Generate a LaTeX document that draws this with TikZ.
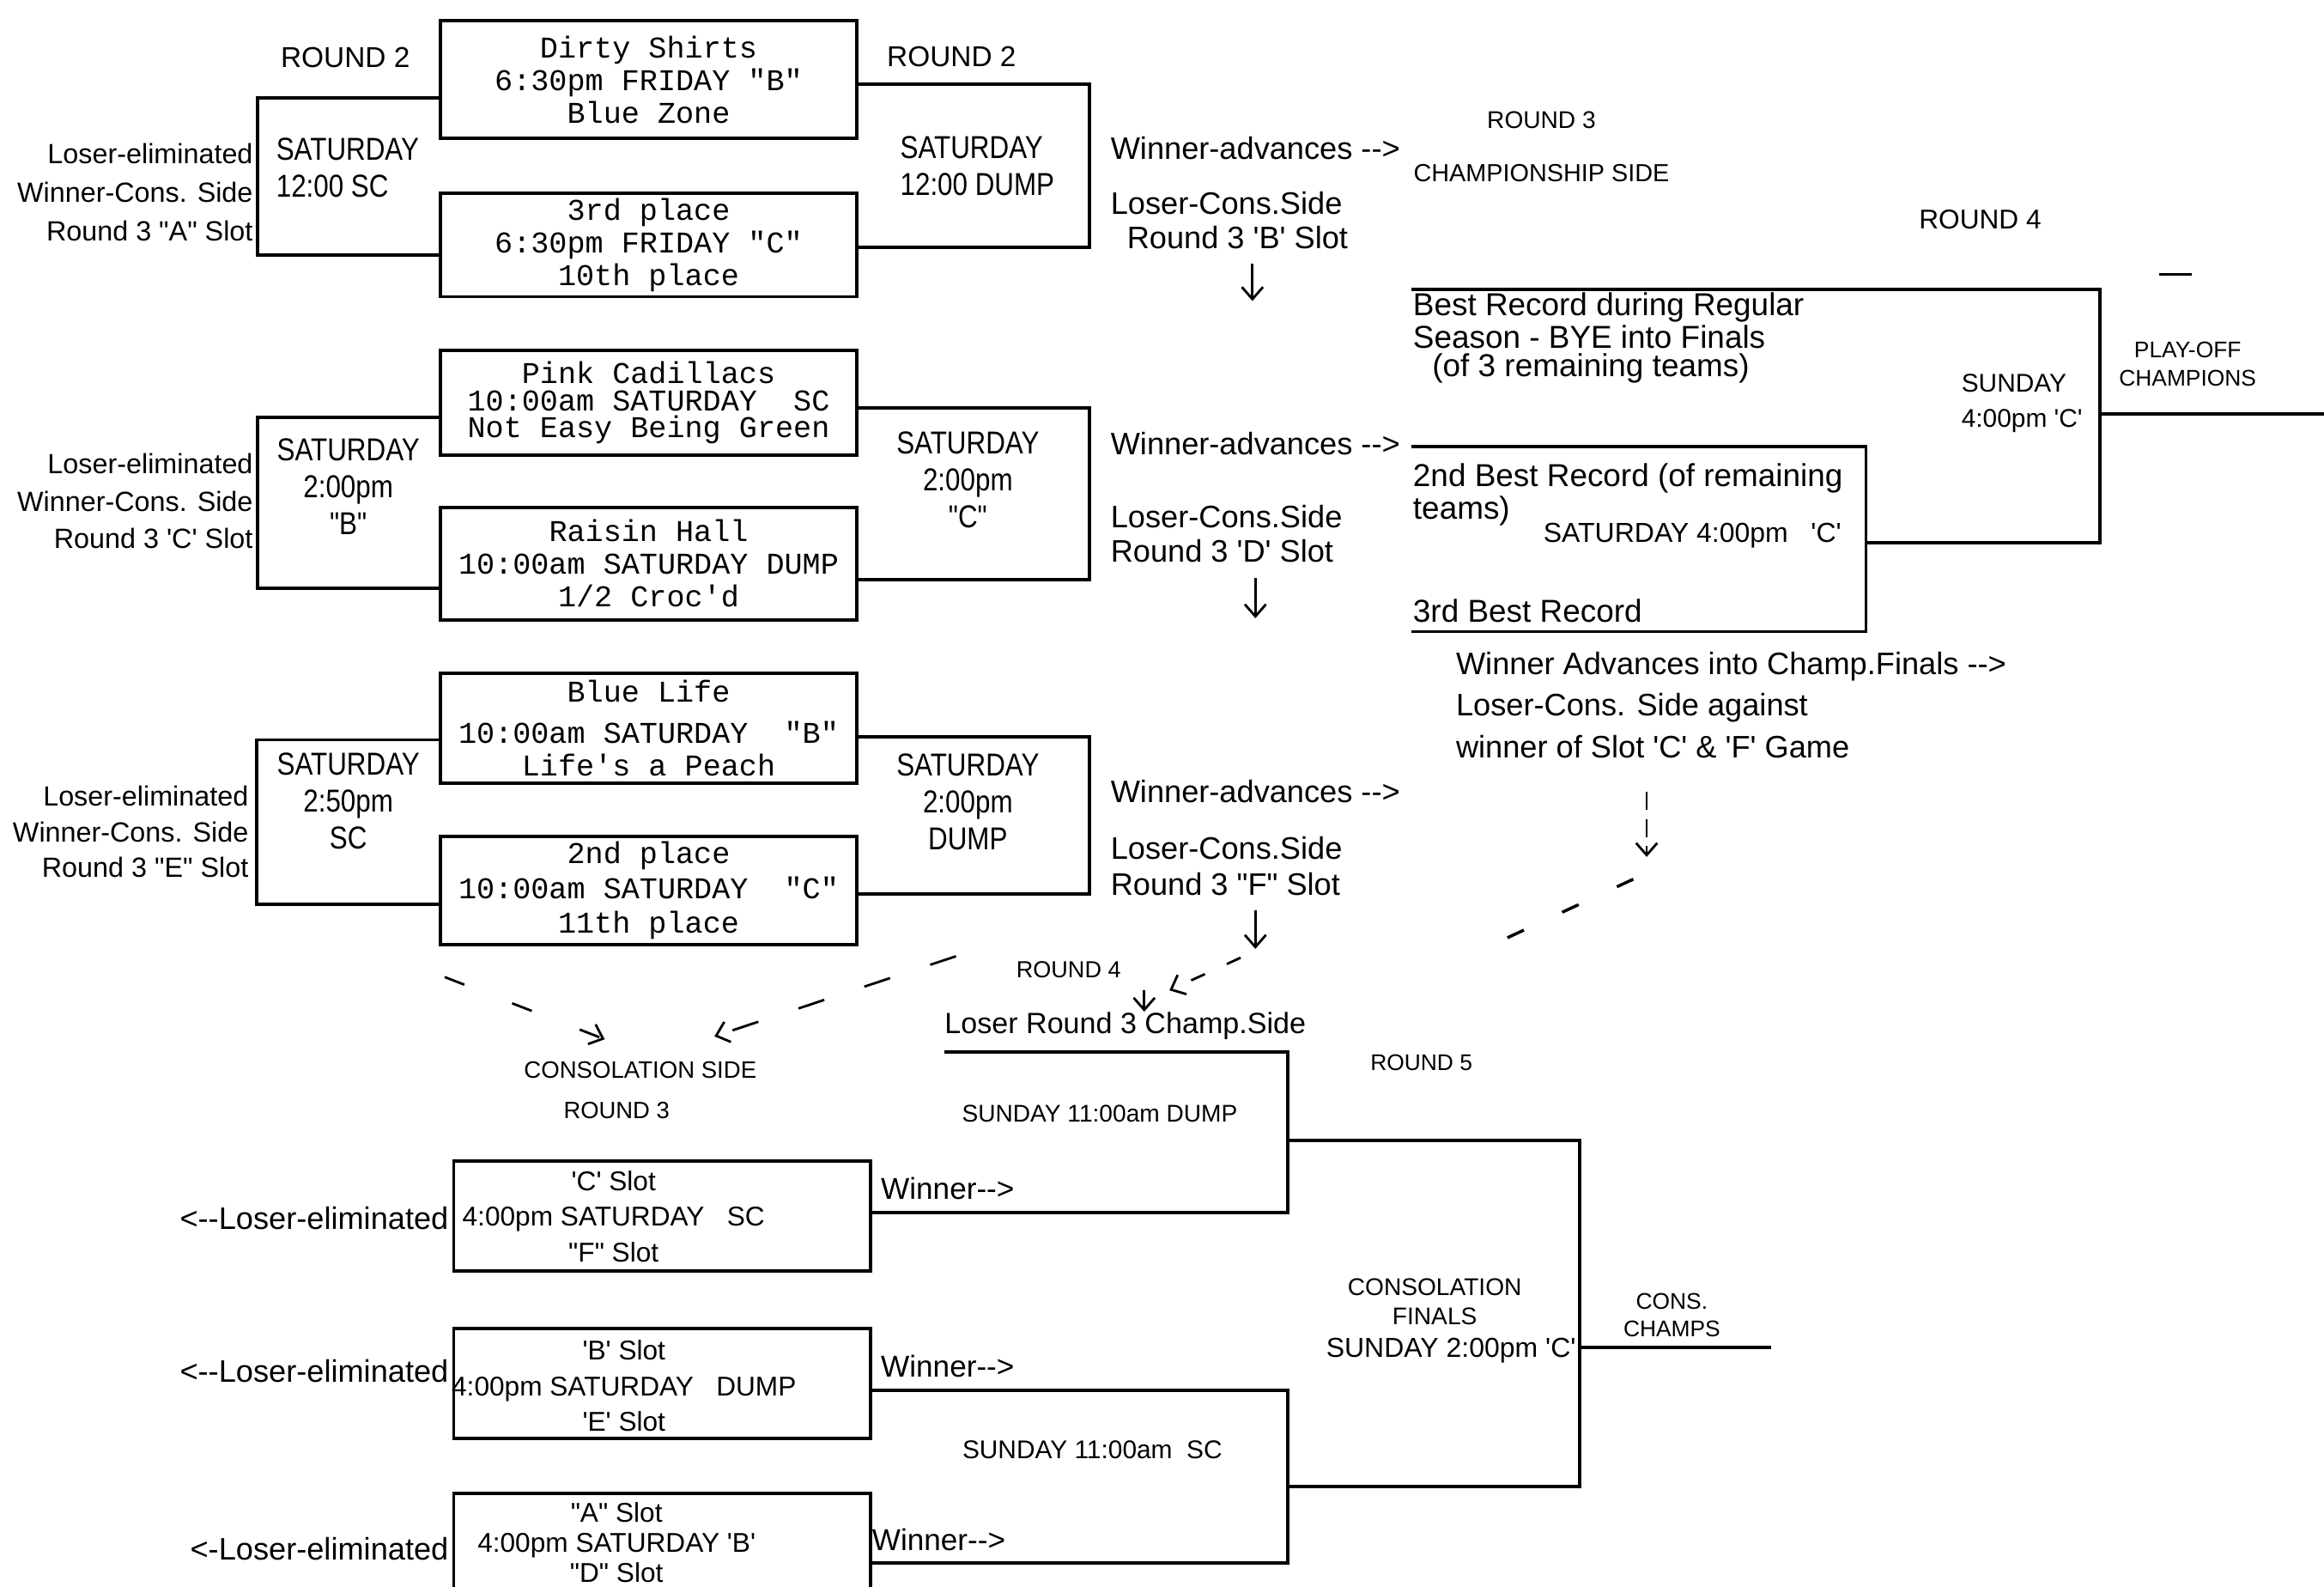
\documentclass[tikz,border=0pt]{standalone}
\usepackage{fontspec}
\setmonofont{Liberation Mono}
\newfontfamily\lbl{Liberation Sans}
\newfontfamily\cnd[FakeStretch=0.85]{Liberation Sans}
\usetikzlibrary{arrows.meta}
\newlength{\upx}
\setlength{\upx}{0.17264mm}

\begin{document}
\begin{tikzpicture}[
        x=0.17264mm, y=-0.17264mm,
        team/.style={draw, line width=1.1pt, anchor=north west, minimum width=281\upx,
            inner sep=0pt, align=center, font=\ttfamily\fontsize{10}{10.8}\selectfont},
        txt/.style 2 args={inner sep=0pt, font=\lbl\fontsize{#1}{#2}\selectfont},
        game/.style={inner sep=0pt, font=\cnd\fontsize{10.5}{12.2}\selectfont},
        brk/.style={line width=1.1pt},
        barb/.style={line width=0.8pt, -{Straight Barb[length=4pt,width=7pt]}}
    ]
    \path [use as bounding box, fill=white] (0,0) rectangle (1568,1070.4);

    \node[txt={9.5}{11}] (rnd2a) at (233,39) {ROUND 2};
    \node[txt={9.5}{11}] (rnd2b) at (642,38) {ROUND 2};
    \node[txt={8}{9}] (rnd3) at (1040,81) {ROUND 3};
    \node[txt={8.2}{9}] (champside) at (1040,117) {CHAMPIONSHIP SIDE};
    \node[txt={9}{10}] (rnd4) at (1336,148) {ROUND 4};

    \node[team, minimum height=79\upx] (dirty) at (296,13) {Dirty Shirts\\6:30pm FRIDAY "B"\\Blue Zone};
    \node[team, minimum height=70\upx] (third) at (296,129) {3rd place\\6:30pm FRIDAY "C"\\10th place};
    \node[team, minimum height=71\upx, font=\ttfamily\fontsize{10}{9}\selectfont] (pink) at (296,235) {Pink Cadillacs\\10:00am SATURDAY~~SC\\Not Easy Being Green};
    \node[team, minimum height=76\upx] (raisin) at (296,341) {Raisin Hall\\10:00am SATURDAY DUMP\\1/2 Croc'd};
    \node[team, minimum height=74\upx] (blue) at (296,453) {Blue Life\\[3pt]10:00am SATURDAY~~"B"\\Life's a Peach};
    \node[team, minimum height=73\upx, font=\ttfamily\fontsize{10}{11.6}\selectfont] (second) at (296,563) {2nd place\\10:00am SATURDAY~~"C"\\11th place};

    \node[game, align=left, anchor=west] (sat1l) at (186,113) {SATURDAY\\12:00 SC};
    \node[game, align=center] (sat2l) at (235,328) {SATURDAY\\2:00pm\\"B"};
    \node[game, align=center] (sat3l) at (235,540.5) {SATURDAY\\2:50pm\\SC};
    \node[game, align=left, anchor=west] (sat1r) at (607,112) {SATURDAY\\12:00 DUMP};
    \node[game, align=center] (sat2r) at (653,323.5) {SATURDAY\\2:00pm\\"C"};
    \node[game, align=center] (sat3r) at (653,541) {SATURDAY\\2:00pm\\DUMP};

    \coordinate (g1lt) at (174,66);    \coordinate (g1lb) at (174,172);
    \coordinate (g1rt) at (735,57);    \coordinate (g1rb) at (735,167);
    \coordinate (g2lt) at (174,281.5); \coordinate (g2lb) at (174,397);
    \coordinate (g2rt) at (735,275);   \coordinate (g2rb) at (735,391);
    \coordinate (g3lt) at (173,499);   \coordinate (g3lb) at (173,610);
    \coordinate (g3rt) at (735,497);   \coordinate (g3rb) at (735,603);
    \draw [brk] (dirty.west |- g1lt) -- (g1lt) -- (g1lb) -- (third.west |- g1lb);
    \draw [brk] (dirty.east |- g1rt) -- (g1rt) -- (g1rb) -- (third.east |- g1rb);
    \draw [brk] (pink.west |- g2lt) -- (g2lt) -- (g2lb) -- (raisin.west |- g2lb);
    \draw [brk] (pink.east |- g2rt) -- (g2rt) -- (g2rb) -- (raisin.east |- g2rb);
    \draw [brk] (blue.west |- g3lt) -- (g3lt) -- (g3lb) -- (second.west |- g3lb);
    \draw [brk] (blue.east |- g3rt) -- (g3rt) -- (g3rb) -- (second.east |- g3rb);

    \node[txt={9.2}{12.8}, align=right, anchor=east] (out1) at (171,130) {Loser-eliminated\\Winner-Cons. Side\\Round 3 "A" Slot};
    \node[txt={9.2}{12.3}, align=right, anchor=east] (out2) at (171,338) {Loser-eliminated\\Winner-Cons. Side\\Round 3 'C' Slot};
    \node[txt={9.2}{11.8}, align=right, anchor=east] (out3) at (168,561) {Loser-eliminated\\Winner-Cons. Side\\Round 3 "E" Slot};

    \node[txt={10.3}{11}, anchor=west] (adv1) at (749,100) {Winner-advances -->};
    \node[txt={10.3}{11.3}, align=left, anchor=west] (lose1) at (749,148.5) {Loser-Cons.Side\\\hspace*{11\upx}Round 3 'B' Slot};
    \node[txt={10.3}{11}, anchor=west] (adv2) at (749,299.5) {Winner-advances -->};
    \node[txt={10.3}{11.3}, align=left, anchor=west] (lose2) at (749,360) {Loser-Cons.Side\\Round 3 'D' Slot};
    \node[txt={10.3}{11}, anchor=west] (adv3) at (749,534) {Winner-advances -->};
    \node[txt={10.3}{12}, align=left, anchor=west] (lose3) at (749,584) {Loser-Cons.Side\\Round 3 "F" Slot};

    \node[txt={10.5}{9.3}, align=left, anchor=west] (best) at (953,228) {Best Record during Regular\\Season - BYE into Finals\\\hspace*{13\upx}(of 3 remaining teams)};
    \node[txt={10.5}{9.5}, align=left, anchor=west] (bestb) at (953,333.5) {2nd Best Record (of remaining\\teams)};
    \node[txt={9.1}{11}, anchor=west] (sat4) at (1041,361) {SATURDAY 4:00pm~~~'C'};
    \node[txt={10.5}{11}, anchor=west] (bestc) at (953,412) {3rd Best Record};
    \node[txt={10.3}{13.8}, align=left, anchor=west] (advfin) at (982,475.5) {Winner Advances into Champ.Finals -->\\Loser-Cons. Side against\\winner of Slot 'C' \& 'F' Game};
    \node[txt={8.5}{11.8}, align=left, anchor=west] (sun4) at (1323,272) {SUNDAY\\4:00pm 'C'};
    \node[txt={7.5}{9.3}, align=center] (playoff) at (1476,245.5) {PLAY-OFF\\CHAMPIONS};

    \coordinate (best0) at (952,195); \coordinate (fin1) at (1417,195); \coordinate (fin2) at (1417,366);
    \coordinate (sb1) at (952,301); \coordinate (sb2) at (1259,301); \coordinate (sb3) at (1259,426); \coordinate (sb4) at (952,426);
    \coordinate (champ) at (1568,279);
    \draw [brk] (best0) -- (fin1) -- (fin2) -- (sb2 |- fin2);
    \draw [brk] (sb1) -- (sb2) -- (sb3) -- (sb4);
    \draw [brk] (fin1 |- champ) -- (champ);
    \draw [line width=1pt] (1457,185) -- (1479,185);

    \node[txt={7.7}{9}] (rnd4b) at (721,654) {ROUND 4};
    \node[txt={7.5}{9}] (rnd5) at (959,717) {ROUND 5};
    \node[txt={7.85}{9}] (consside) at (432,722) {CONSOLATION SIDE};
    \node[txt={7.8}{9}] (rnd3c) at (416,749) {ROUND 3};
    \node[txt={9.7}{11}, anchor=west] (lr3txt) at (637,692) {Loser Round 3 Champ.Side};

    \node[team, minimum height=74\upx] (cslot) at (305,782) {};
    \node[team, minimum height=74\upx] (bslot) at (305,895) {};
    \node[team, minimum height=77\upx] (aslot) at (305,1006) {};
    \node[txt={9}{11.8}, align=center] (ctext) at (414,820.5) {'C' Slot\\4:00pm SATURDAY~~~SC\\"F" Slot};
    \node[txt={9}{11.8}, align=center] (btext) at (421,934.8) {'B' Slot\\4:00pm SATURDAY~~~DUMP\\'E' Slot};
    \node[txt={9}{10}, align=center] (atext) at (416,1040.5) {"A" Slot\\4:00pm SATURDAY 'B'\\"D" Slot};
    \node[txt={10.3}{11}, anchor=east] (elimc) at (303,821.6) {<--Loser-eliminated};
    \node[txt={10.3}{11}, anchor=east] (elimb) at (303,925) {<--Loser-eliminated};
    \node[txt={10.3}{11}, anchor=east] (elima) at (303,1044.6) {<-Loser-eliminated};
    \foreach \i/\x/\y in {1/594/801.7, 2/594/921.5, 3/588/1038.6}
        \node[txt={10}{11}, anchor=west] (win\i) at (\x,\y) {Winner-->};

    \node[txt={8}{10}] (sun11a) at (742,751) {SUNDAY 11:00am DUMP};
    \node[txt={8.5}{10}] (sun11b) at (737,978) {SUNDAY 11:00am~~SC};
    \node[txt={8}{9.5}, align=center] (consfin) at (968,878) {CONSOLATION\\FINALS};
    \node[txt={9.1}{11}] (sun2) at (979,911) {SUNDAY 2:00pm 'C'};
    \node[txt={7.5}{9.3}, align=center] (conschamps) at (1128,887) {CONS.\\CHAMPS};

    \coordinate (lr3) at (637,709.5); \coordinate (dm1) at (869,709.5); \coordinate (dm2) at (869,818);
    \coordinate (sc1) at (869,938); \coordinate (sc2) at (869,1054);
    \coordinate (cf1) at (1066,769); \coordinate (cf2) at (1066,1002.6);
    \coordinate (cons) at (1195,908.6);
    \draw [brk] (lr3) -- (dm1) -- (dm2) -- (cslot.east |- dm2);
    \draw [brk] (bslot.east |- sc1) -- (sc1) -- (sc2) -- (aslot.east |- sc2);
    \draw [brk] (dm1 |- cf1) -- (cf1) -- (cf2) -- (sc1 |- cf2);
    \draw [brk] (cf1 |- cons) -- (cons);

    \coordinate (ln1) at (845,178); \coordinate (lt1) at (845,203);
    \coordinate (ln2) at (847,390); \coordinate (lt2) at (847,417);
    \coordinate (ln3) at (847,614); \coordinate (lt3) at (847,640);
    \foreach \i in {1,2,3}
        \draw [barb] (ln\i) -- (lt\i);
    \coordinate (r4a) at (837,646); \coordinate (r4b) at (789,668);
    \draw [barb, dash pattern=on 5pt off 8pt] (r4a) -- (r4b);
    \coordinate (lrin) at (772,668);
    \draw [barb] (lrin) -- (lr3txt.north -| lrin);
    \coordinate (cs1) at (1111,534); \coordinate (cs2) at (1111,578);
    \draw [barb, dash pattern=on 6pt off 3pt] (cs1) -- (cs2);
    \coordinate (cs3) at (1102,593); \coordinate (cs4) at (1016,633);
    \draw [line width=1pt, dash pattern=on 6pt off 14pt] (cs3) -- (cs4);
    \coordinate (cn1) at (645,645); \coordinate (cn2) at (482,699);
    \draw [barb, dash pattern=on 9pt off 14pt] (cn1) -- (cn2);
    \coordinate (cn3) at (300,659); \coordinate (cn4) at (408,701);
    \draw [barb, dash pattern=on 7pt off 17pt] (cn3) -- (cn4);
\end{tikzpicture}
\end{document}
